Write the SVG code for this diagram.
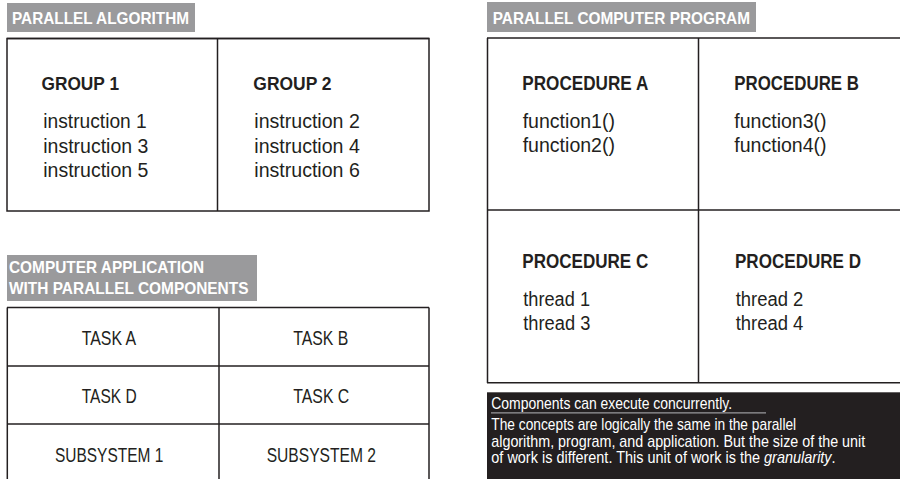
<svg xmlns="http://www.w3.org/2000/svg" width="900" height="479" viewBox="0 0 900 479">
<style>
text{font-family:"Liberation Sans",Arial,sans-serif;fill:#231f20}
.hdr{fill:#9a9a9c}
.ht{font-weight:bold;font-size:16.5px;fill:#ffffff}
.frame{fill:none;stroke:#231f20;stroke-width:1.5}
.ln{stroke:#231f20;stroke-width:1.5;fill:none}
.bt{font-weight:bold;font-size:19px}
.pt{font-weight:bold;font-size:20px}
.rt{font-size:19.5px}
.tk{font-size:20px}
.dk{font-size:16px;fill:#ffffff}
</style>

<g id="algorithm">
  <g id="algorithm-header">
    <rect class="hdr" x="7" y="3" width="188" height="29"/>
    <text class="ht" x="12" y="23.5" textLength="177" lengthAdjust="spacingAndGlyphs">PARALLEL ALGORITHM</text>
  </g>
  <rect class="frame" x="7" y="38.5" width="422" height="172.5"/>
  <line class="ln" x1="7" y1="38.5" x2="429" y2="38.5" stroke-width="2"/>
  <line class="ln" x1="217.5" y1="38.5" x2="217.5" y2="211"/>
  <g id="group1">
    <text class="bt" x="41.5" y="89.5" textLength="77.5" lengthAdjust="spacingAndGlyphs">GROUP 1</text>
    <text class="rt" x="43.3" y="128.3" textLength="103.5" lengthAdjust="spacingAndGlyphs">instruction 1</text>
    <text class="rt" x="43.3" y="152.5" textLength="105" lengthAdjust="spacingAndGlyphs">instruction 3</text>
    <text class="rt" x="43.3" y="176.8" textLength="105" lengthAdjust="spacingAndGlyphs">instruction 5</text>
  </g>
  <g id="group2">
    <text class="bt" x="253.3" y="89.5" textLength="78.3" lengthAdjust="spacingAndGlyphs">GROUP 2</text>
    <text class="rt" x="254.3" y="128.3" textLength="105.5" lengthAdjust="spacingAndGlyphs">instruction 2</text>
    <text class="rt" x="254.3" y="152.5" textLength="105.5" lengthAdjust="spacingAndGlyphs">instruction 4</text>
    <text class="rt" x="254.3" y="176.8" textLength="105.5" lengthAdjust="spacingAndGlyphs">instruction 6</text>
  </g>
</g>

<g id="application">
  <g id="application-header">
    <rect class="hdr" x="7" y="255" width="250" height="46"/>
    <text class="ht" x="9" y="273.3" textLength="195" lengthAdjust="spacingAndGlyphs">COMPUTER APPLICATION</text>
    <text class="ht" x="9" y="293.5" textLength="239.5" lengthAdjust="spacingAndGlyphs">WITH PARALLEL COMPONENTS</text>
  </g>
  <line class="ln" x1="7" y1="307.5" x2="429" y2="307.5" stroke-width="2"/>
  <line class="ln" x1="7.3" y1="307.5" x2="7.3" y2="479"/>
  <line class="ln" x1="219" y1="307.5" x2="219" y2="479"/>
  <line class="ln" x1="429" y1="307.5" x2="429" y2="479"/>
  <line class="ln" x1="7" y1="366" x2="429" y2="366"/>
  <line class="ln" x1="7" y1="424" x2="429" y2="424"/>
  <g id="task-a"><text class="tk" x="81.7" y="345" textLength="54.5" lengthAdjust="spacingAndGlyphs">TASK A</text></g>
  <g id="task-b"><text class="tk" x="293.3" y="345" textLength="55" lengthAdjust="spacingAndGlyphs">TASK B</text></g>
  <g id="task-d"><text class="tk" x="81.7" y="403" textLength="55" lengthAdjust="spacingAndGlyphs">TASK D</text></g>
  <g id="task-c"><text class="tk" x="293.3" y="403" textLength="56" lengthAdjust="spacingAndGlyphs">TASK C</text></g>
  <g id="subsystem-1"><text class="tk" x="55" y="461.5" textLength="108.3" lengthAdjust="spacingAndGlyphs">SUBSYSTEM 1</text></g>
  <g id="subsystem-2"><text class="tk" x="266.7" y="461.5" textLength="109.3" lengthAdjust="spacingAndGlyphs">SUBSYSTEM 2</text></g>
</g>

<g id="program">
  <g id="program-header">
    <rect class="hdr" x="487" y="2" width="269" height="30"/>
    <text class="ht" x="492.7" y="23.5" textLength="257.3" lengthAdjust="spacingAndGlyphs">PARALLEL COMPUTER PROGRAM</text>
  </g>
  <line class="ln" x1="487" y1="38" x2="900" y2="38" stroke-width="2"/>
  <line class="ln" x1="487.5" y1="38" x2="487.5" y2="383"/>
  <line class="ln" x1="698.5" y1="38" x2="698.5" y2="383"/>
  <line class="ln" x1="487" y1="210" x2="900" y2="210"/>
  <line class="ln" x1="487" y1="382.7" x2="900" y2="382.7"/>
  <g id="procedure-a">
    <text class="pt" x="522.3" y="89.5" textLength="126" lengthAdjust="spacingAndGlyphs">PROCEDURE A</text>
    <text class="rt" x="522.7" y="127.7" textLength="92.3" lengthAdjust="spacingAndGlyphs">function1()</text>
    <text class="rt" x="522.7" y="151.7" textLength="92.3" lengthAdjust="spacingAndGlyphs">function2()</text>
  </g>
  <g id="procedure-b">
    <text class="pt" x="734.3" y="89.5" textLength="124.7" lengthAdjust="spacingAndGlyphs">PROCEDURE B</text>
    <text class="rt" x="734.3" y="127.7" textLength="92.3" lengthAdjust="spacingAndGlyphs">function3()</text>
    <text class="rt" x="734.3" y="151.7" textLength="92.3" lengthAdjust="spacingAndGlyphs">function4()</text>
  </g>
  <g id="procedure-c">
    <text class="pt" x="522.3" y="268.3" textLength="126" lengthAdjust="spacingAndGlyphs">PROCEDURE C</text>
    <text class="rt" x="523.3" y="306" textLength="66.7" lengthAdjust="spacingAndGlyphs">thread 1</text>
    <text class="rt" x="523.3" y="330" textLength="67" lengthAdjust="spacingAndGlyphs">thread 3</text>
  </g>
  <g id="procedure-d">
    <text class="pt" x="735" y="268.3" textLength="126" lengthAdjust="spacingAndGlyphs">PROCEDURE D</text>
    <text class="rt" x="735.7" y="306" textLength="67.7" lengthAdjust="spacingAndGlyphs">thread 2</text>
    <text class="rt" x="735.7" y="330" textLength="67.7" lengthAdjust="spacingAndGlyphs">thread 4</text>
  </g>
</g>

<g id="note">
  <rect x="487" y="392.3" width="413" height="86.7" fill="#231f20"/>
  <text class="dk" transform="translate(491.3,408.5) scale(0.872,1)">Components can execute concurrently.</text>
  <line x1="491" y1="412.8" x2="766" y2="412.8" stroke="#9a9a9c" stroke-width="1.2"/>
  <text class="dk" transform="translate(491.3,430) scale(0.86,1)">The concepts are logically the same in the parallel</text>
  <text class="dk" transform="translate(491.3,446.6) scale(0.895,1)">algorithm, program, and application. But the size of the unit</text>
  <text class="dk" transform="translate(491.3,463.2) scale(0.904,1)">of work is different. This unit of work is the <tspan font-style="italic">granularity</tspan>.</text>
</g>

<g id="connectors"></g>
</svg>
